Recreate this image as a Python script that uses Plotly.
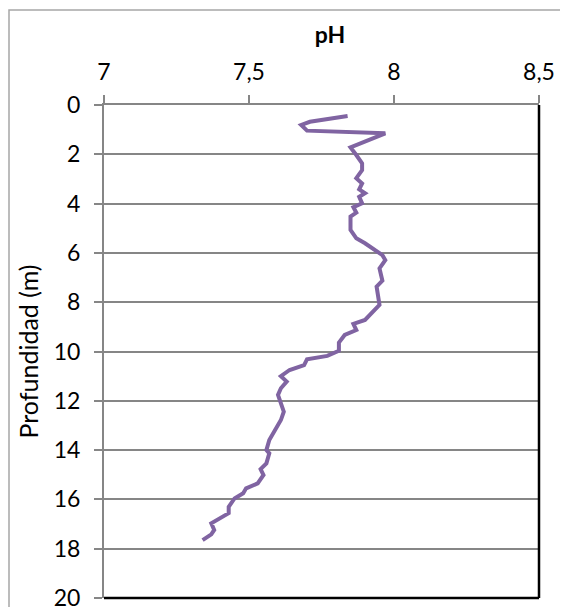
import plotly.graph_objects as go

depth_m = [0.45, 0.68, 0.81, 1.04, 1.15, 1.42, 1.72, 2.03, 2.37, 2.64, 2.97, 3.18, 3.42, 3.58, 3.72,
           3.99, 4.15, 4.37, 4.53, 5.07, 5.41, 5.61, 5.77, 6.09, 6.29, 6.63, 7.13, 7.37, 8.11, 8.72,
           8.88, 9.13, 9.33, 9.64, 9.97, 10.18, 10.32, 10.55, 10.75, 11.0, 11.22, 11.49, 11.76, 12.13,
           12.44, 12.78, 13.18, 13.59, 14.0, 14.13, 14.54, 14.77, 15.01, 15.35, 15.55, 15.75, 15.96,
           16.30, 16.56, 16.77, 16.97, 17.24, 17.42, 17.65]
ph_values = [7.84, 7.71, 7.68, 7.70, 7.97, 7.91, 7.85, 7.87, 7.89, 7.89, 7.87, 7.89, 7.88, 7.90, 7.88,
             7.89, 7.86, 7.87, 7.85, 7.85, 7.87, 7.90, 7.92, 7.96, 7.97, 7.95, 7.96, 7.94, 7.95, 7.90,
             7.86, 7.87, 7.83, 7.81, 7.81, 7.77, 7.70, 7.69, 7.64, 7.61, 7.63, 7.61, 7.60, 7.61,
             7.62, 7.61, 7.59, 7.57, 7.56, 7.57, 7.56, 7.54, 7.55, 7.53, 7.49, 7.48, 7.45,
             7.43, 7.43, 7.40, 7.37, 7.38, 7.37, 7.34]
x_ticks = [7, 7.5, 8, 8.5]
y_ticks = [0, 2, 4, 6, 8, 10, 12, 14, 16, 18, 20]

FONT = "Lato"
W, H = 560, 599
L, R, T, B = 96, 29, 97, 9
PW, PH = W - L - R, H - T - B

fig = go.Figure()
fig.add_trace(go.Scatter(x=ph_values, y=depth_m, mode="lines",
                         line=dict(color="#8064A2", width=4), showlegend=False))

fig.update_layout(
    width=W, height=H,
    margin=dict(l=L, r=R, t=T, b=B, autoexpand=False),
    paper_bgcolor="white", plot_bgcolor="white",
    separators=", ",
    font=dict(family=FONT, size=23, color="black"),
    title=dict(text="<b>pH</b>", x=322/W, xref="container", xanchor="center",
               y=1-27/H, yref="container", yanchor="middle",
               font=dict(family=FONT, size=23, color="black")),
    xaxis=dict(side="top", range=[7, 8.5], tickvals=x_ticks, showgrid=False, zeroline=False,
               automargin=False,
               showline=True, linecolor="#868686", linewidth=2,
               ticks="outside", ticklen=8, tickcolor="#868686", tickwidth=1.5,
               ticklabelstandoff=6, ticklabeloverflow="allow"),
    yaxis=dict(range=[20, 0], tickvals=y_ticks, showgrid=True, gridcolor="#868686", gridwidth=2,
               zeroline=False, automargin=False,
               showline=True, linecolor="#868686", linewidth=2,
               ticks="outside", ticklen=8, tickcolor="#868686", tickwidth=1.5,
               ticklabelstandoff=9, ticklabeloverflow="allow",
               title=dict(text="Profundidad (m)", font=dict(family=FONT, size=25), standoff=8)),
    shapes=[
        dict(type="line", xref="paper", yref="paper", x0=1, x1=1, y0=0, y1=1,
             line=dict(color="black", width=2.5)),
        dict(type="line", xref="paper", yref="paper", x0=0, x1=1, y0=0, y1=0,
             line=dict(color="black", width=2.5)),
        dict(type="rect", xref="paper", yref="paper", x0=(1 - L) / PW, x1=1.2,
             y0=-0.1, y1=1 + (T - 2) / PH,
             line=dict(color="#a6a6a6", width=1.5), layer="below"),
    ],
)
fig.write_html("out.html")
